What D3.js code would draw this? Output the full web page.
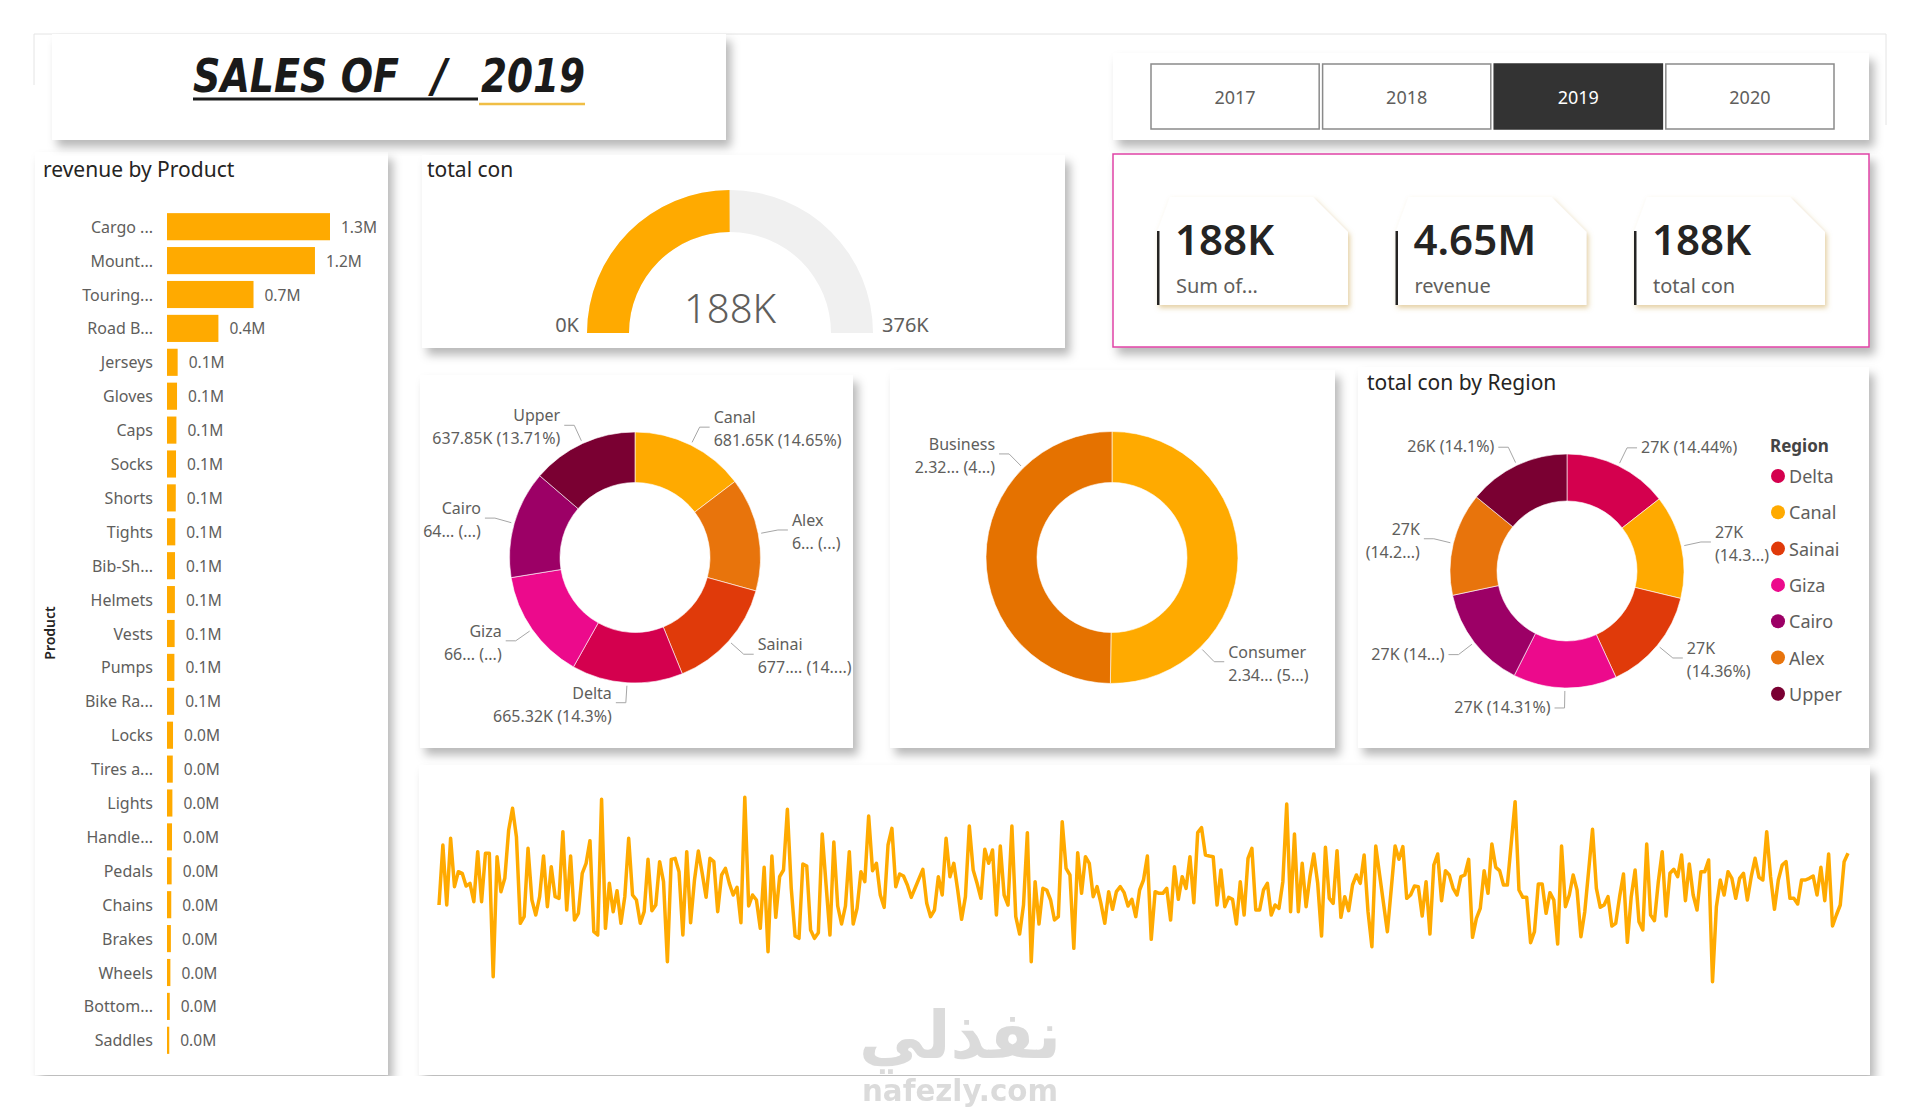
<!DOCTYPE html>
<html>
<head>
<meta charset="utf-8">
<script src="https://cdn.jsdelivr.net/npm/d3@7"></script>
<style>
  body { margin: 0; background: #fff; }
  svg { display: block; font-family: "Noto Sans", "Open Sans", sans-serif; }
</style>
</head>
<body>
<svg id="dash" width="1920" height="1110"></svg>
<script>
// ---- data ----
const years = [2017, 2018, 2019, 2020];
const selectedYear = 2019;

const products = ["Cargo ...", "Mount...", "Touring...", "Road B...", "Jerseys", "Gloves", "Caps", "Socks",
  "Shorts", "Tights", "Bib-Sh...", "Helmets", "Vests", "Pumps", "Bike Ra...", "Locks", "Tires a...",
  "Lights", "Handle...", "Pedals", "Chains", "Brakes", "Wheels", "Bottom...", "Saddles"];
const productRevenue = [1.30, 1.18, 0.69, 0.41, 0.085, 0.08, 0.075, 0.072, 0.07, 0.066, 0.064, 0.063,
  0.061, 0.059, 0.057, 0.048, 0.046, 0.043, 0.04, 0.037, 0.034, 0.031, 0.027, 0.022, 0.018]; // M

// revenue by region (K), pie order
const revRegions = ["Canal", "Alex", "Sainai", "Delta", "Giza", "Cairo", "Upper"];
const revByRegion = [681.65, 681.2, 677.31, 665.32, 664.5, 644.4, 637.85];
const revLabels = [["Canal", "681.65K (14.65%)"], ["Alex", "6... (...)"], ["Sainai", "677.... (14....)"],
  ["Delta", "665.32K (14.3%)"], ["Giza", "66... (...)"], ["Cairo", "64... (...)"], ["Upper", "637.85K (13.71%)"]];

// revenue by segment (M)
const segments = ["Consumer", "Business"];
const segRevenue = [2.336, 2.317];
const segLabels = [["Consumer", "2.34... (5...)"], ["Business", "2.32... (4...)"]];

// total con by region (K)
const conRegions = ["Delta", "Canal", "Sainai", "Giza", "Cairo", "Alex", "Upper"];
const conByRegion = [27.09, 26.88, 26.94, 26.85, 26.68, 26.71, 26.45];
const conLabels = [["27K (14.44%)"], ["27K", "(14.3...)"], ["27K", "(14.36%)"], ["27K (14.31%)"],
  ["27K (14...)"], ["27K", "(14.2...)"], ["26K (14.1%)"]];

const gaugeMax = 376; // K
const kpiLabels = ["Sum of...", "revenue", "total con"];

// daily con over the year
const dailyCon = [
  455,635,455,655,510,555,550,512,520,465, 615,465,610,610,240,600,495,535,680,745,
  660,400,420,625,470,425,480,602,450,570, 480,475,675,440,602,410,430,550,580,648,
  375,365,772,385,520,435,498,400,480,655, 485,470,400,435,592,438,455,585,525,285,
  592,595,555,365,615,402,530,617,550,478, 595,585,435,545,565,520,485,508,402,778,
  452,485,470,385,568,315,602,418,540,560, 742,505,362,355,578,572,380,355,372,668,
  515,365,644,452,398,452,615,398,445,555, 525,722,558,580,485,448,635,685,510,548,
  542,515,478,506,534,562,
  460,420,440,540,485,655,540,580,500,412, 480,692,560,520,475,622,580,620,425,632,
  485,455,692,420,368,455,672,285,525,398, 505,500,470,410,420,705,565,545,325,612,
  490,600,580,480,510,460,400,495,442,495, 510,492,452,472,420,500,530,602,352,495,
  490,490,505,410,570,472,540,505,600,462, 672,687,605,602,600,455,560,450,478,472,
  398,525,425,595,625,440,440,500,520,425, 455,445,525,758,435,668,435,580,450,540,
  608,520,362,628,475,460,618,418,480,438, 515,545,520,605,435,330,632,546,460,375,
  503,632,592,630,475,485,512,510,422,525, 368,575,608,468,558,545,505,485,540,545,
  592,358,415,445,558,490,638,568,558,515, 515,640,765,500,478,478,342,375,518,518,
  430,492,470,338,632,450,485,545,500,360, 435,558,682,505,448,455,480,392,400,480,
  548,343,480,560,405,380,638,425,408,525, 615,422,550,562,540,605,468,578,485,440,
  555,555,590,225,450,530,485,555,535,475, 535,550,470,540,595,538,530,675,540,442,
  530,575,585,475,475,458,530,530,535,542, 485,568,468,608,392,425,455,585,610
];

const regionColor = {
  Canal: "#FFAA00", Alex: "#E8740C", Sainai: "#E03A0A", Delta: "#D4004E",
  Giza: "#EC0A8C", Cairo: "#9C0066", Upper: "#7A0032"
};
const segColor = { Consumer: "#FFAA00", Business: "#E57200" };

const textDark = "#252423", textGrey = "#605E5C";
const yellow = "#FFAA00";

const svg = d3.select("#dash");
const defs = svg.append("defs");
defs.append("filter").attr("id", "shadow").attr("x", "-5%").attr("y", "-5%").attr("width", "115%").attr("height", "120%")
  .append("feDropShadow").attr("dx", 5).attr("dy", 7).attr("stdDeviation", 5)
  .attr("flood-color", "#000").attr("flood-opacity", 0.28);
defs.append("filter").attr("id", "glow").attr("x", "-10%").attr("y", "-10%").attr("width", "125%").attr("height", "130%")
  .append("feDropShadow").attr("dx", 2).attr("dy", 3).attr("stdDeviation", 2.5)
  .attr("flood-color", "#c9a24a").attr("flood-opacity", 0.5);

// page frame
svg.append("path").attr("d", "M34,85 V34 H1886 V125").attr("fill", "none").attr("stroke", "#e4e4e4");

// panels
function panel(x, y, w, h) {
  return svg.append("rect").attr("x", x).attr("y", y).attr("width", w).attr("height", h)
    .attr("fill", "#fff").attr("filter", "url(#shadow)");
}
panel(35, 152, 353, 923);
panel(52, 34, 674, 106);
panel(422, 155, 643, 193);
panel(1113, 53, 756, 87);
panel(1113, 154, 756, 193).attr("stroke", "#E043A6").attr("stroke-width", 1.5);
panel(420, 375, 433, 373);
panel(890, 370, 445, 378);
panel(1358, 367, 511, 381);
panel(419, 765, 1451, 310);
svg.append("rect").attr("x", 0).attr("y", 1076).attr("width", 1920).attr("height", 40).attr("fill", "#fff");

// ---- title ----
const titleFont = '"Liberation Sans Narrow", "DejaVu Sans Condensed", sans-serif';
const tg = svg.append("g").attr("font-family", titleFont).attr("font-weight", "bold")
  .attr("font-style", "italic").attr("font-size", 46).attr("fill", "#1a1a1a");
tg.append("text").attr("x", 193).attr("y", 92).attr("textLength", 206).attr("lengthAdjust", "spacingAndGlyphs").text("SALES OF");
tg.append("text").attr("x", 432).attr("y", 92).text("/");
tg.append("text").attr("x", 481).attr("y", 92).attr("textLength", 104).attr("lengthAdjust", "spacingAndGlyphs").text(String(selectedYear));
svg.append("line").attr("x1", 193).attr("x2", 478).attr("y1", 99).attr("y2", 99).attr("stroke", "#1a1a1a").attr("stroke-width", 3);
svg.append("line").attr("x1", 479).attr("x2", 585).attr("y1", 104).attr("y2", 104).attr("stroke", "#F0BE45").attr("stroke-width", 2.5);

// ---- year slicer ----
const xYear = d3.scaleBand().domain(years).range([1151, 1834]).paddingInner(0.02);
const yb = svg.append("g");
yb.selectAll("rect").data(years).join("rect")
  .attr("x", d => xYear(d)).attr("y", 64).attr("width", xYear.bandwidth()).attr("height", 65)
  .attr("fill", d => d === selectedYear ? "#333333" : "#fff")
  .attr("stroke", d => d === selectedYear ? "#333333" : "#8a8a8a").attr("stroke-width", 1.5);
yb.selectAll("text").data(years).join("text")
  .attr("x", d => xYear(d) + xYear.bandwidth() / 2).attr("y", 104).attr("text-anchor", "middle")
  .attr("font-size", 18).attr("fill", d => d === selectedYear ? "#fff" : textGrey).text(d => d);

// ---- KPI cards ----
const totalCon = d3.sum(conByRegion);
const totalRev = d3.sum(revByRegion) / 1000;
const kpiValues = [d3.format(".0f")(totalCon) + "K", d3.format(".2f")(totalRev) + "M", d3.format(".0f")(totalCon) + "K"];
kpiValues.forEach((v, i) => {
  const x0 = 1157 + i * 238.5, y0 = 197, w = 191, h = 108;
  const g = svg.append("g");
  g.append("path").attr("d", `M${x0},${y0 + 35} L${x0 + 13},${y0} L${x0 + w - 35},${y0} L${x0 + w},${y0 + 35} L${x0 + w},${y0 + h} L${x0},${y0 + h} Z`)
    .attr("fill", "#fff").attr("filter", "url(#glow)");
  g.append("rect").attr("x", x0).attr("y", y0 + 34).attr("width", 2.5).attr("height", h - 34).attr("fill", textDark);
  g.append("text").attr("x", x0 + 18).attr("y", y0 + 58).attr("font-size", 42).attr("font-weight", 600)
    .attr("fill", textDark).text(v);
  g.append("text").attr("x", x0 + 19).attr("y", y0 + 96).attr("font-size", 20).attr("fill", textGrey).text(kpiLabels[i]);
});

// ---- bar chart ----
svg.append("text").attr("x", 43).attr("y", 177).attr("font-size", 21).attr("fill", textDark).text("revenue by Product");
svg.append("text").attr("transform", "translate(55,633) rotate(-90)").attr("text-anchor", "middle")
  .attr("font-size", 14).attr("font-weight", 600).attr("fill", textDark).text("Product");
const yBar = d3.scaleBand().domain(products).range([209.75, 209.75 + 25 * 33.9]).paddingInner(0.2).paddingOuter(0.1);
const xBar = d3.scaleLinear().domain([0, 1.3]).range([167, 330]);
const bars = svg.append("g");
bars.selectAll("rect").data(productRevenue).join("rect")
  .attr("x", xBar(0)).attr("y", (d, i) => yBar(products[i]))
  .attr("width", d => xBar(d) - xBar(0)).attr("height", yBar.bandwidth()).attr("fill", yellow);
bars.selectAll("text.cat").data(products).join("text").attr("class", "cat")
  .attr("x", 153).attr("y", d => yBar(d) + yBar.bandwidth() / 2 + 6).attr("text-anchor", "end")
  .attr("font-size", 16).attr("fill", textGrey).text(d => d);
bars.selectAll("text.val").data(productRevenue).join("text").attr("class", "val")
  .attr("x", d => xBar(d) + 11).attr("y", (d, i) => yBar(products[i]) + yBar.bandwidth() / 2 + 6)
  .attr("font-size", 15.5).attr("fill", textGrey).text(d => d3.format(".1f")(d) + "M");

// ---- gauge ----
svg.append("text").attr("x", 427).attr("y", 177).attr("font-size", 21).attr("fill", textDark).text("total con");
const gcx = 730, gcy = 333;
const gArc = d3.arc().innerRadius(101).outerRadius(143);
const gScale = d3.scaleLinear().domain([0, gaugeMax]).range([-Math.PI / 2, Math.PI / 2]);
const gg = svg.append("g").attr("transform", `translate(${gcx},${gcy})`);
gg.append("path").attr("d", gArc({ startAngle: gScale(0), endAngle: gScale(gaugeMax) })).attr("fill", "#F0F0F0");
gg.append("path").attr("d", gArc({ startAngle: gScale(0), endAngle: gScale(totalCon) })).attr("fill", yellow);
gg.append("text").attr("y", -10).attr("text-anchor", "middle").attr("font-size", 40).attr("font-weight", 300)
  .attr("fill", textGrey).text(d3.format(".0f")(totalCon) + "K");
gg.append("text").attr("x", -151).attr("y", -1).attr("text-anchor", "end").attr("font-size", 20).attr("fill", textGrey).text("0K");
gg.append("text").attr("x", 152).attr("y", -1).attr("font-size", 20).attr("fill", textGrey).text(gaugeMax + "K");

// ---- donuts ----
function donut(cx, cy, rIn, rOut, names, values, colorOf, labels, frac) {
  const g = svg.append("g");
  const arcs = d3.pie().sort(null).value(d => d)(values);
  const arc = d3.arc().innerRadius(rIn).outerRadius(rOut);
  g.selectAll("path").data(arcs).join("path")
    .attr("transform", `translate(${cx},${cy})`).attr("d", arc)
    .attr("fill", (d, i) => colorOf[names[i]]).attr("stroke", "#fff").attr("stroke-width", 0.6);
  arcs.forEach((d, i) => {
    const a = d.startAngle + frac * (d.endAngle - d.startAngle);
    const sx = Math.sin(a), sy = -Math.cos(a);
    const side = sx >= 0 ? 1 : -1;
    const p0 = [cx + (rOut + 3) * sx, cy + (rOut + 3) * sy];
    const p1 = [cx + (rOut + 20) * sx, cy + (rOut + 20) * sy];
    const p2 = [p1[0] + side * 10, p1[1]];
    g.append("polyline").attr("points", [p0, p1, p2].map(p => p.join(",")).join(" "))
      .attr("fill", "none").attr("stroke", "#a6a6a6").attr("stroke-width", 1);
    const lines = labels[i];
    const t = g.append("text").attr("text-anchor", side > 0 ? "start" : "end")
      .attr("font-size", 16).attr("fill", textGrey);
    lines.forEach((s, k) => {
      const base = lines.length === 1 ? p2[1] + 5 : p2[1] - 4 + k * 23;
      t.append("tspan").attr("x", p2[0] + side * 4).attr("y", base).text(s);
    });
  });
}
donut(635, 557.5, 75, 125.5, revRegions, revByRegion, regionColor, revLabels, 0.5);
donut(1112, 557.5, 75, 126, segments, segRevenue, segColor, segLabels, 0.75);

svg.append("text").attr("x", 1367).attr("y", 390).attr("font-size", 21).attr("fill", textDark).text("total con by Region");
donut(1567, 571, 70, 117, conRegions, conByRegion, regionColor, conLabels, 0.5);

// legend
const lg = svg.append("g");
lg.append("text").attr("x", 1770).attr("y", 452).attr("font-size", 17).attr("font-weight", "bold").attr("fill", "#444").text("Region");
lg.selectAll("circle").data(conRegions).join("circle")
  .attr("cx", 1778).attr("cy", (d, i) => 476 + i * 36.3).attr("r", 7).attr("fill", d => regionColor[d]);
lg.selectAll("text.item").data(conRegions).join("text").attr("class", "item")
  .attr("x", 1789).attr("y", (d, i) => 483 + i * 36.3).attr("font-size", 18).attr("fill", textGrey).text(d => d);

// ---- daily line ----
const xDay = d3.scaleLinear().domain([0, dailyCon.length - 1]).range([439, 1848]);
const yDay = d3.scaleLinear().domain([200, 800]).range([990, 790]);
svg.append("path").datum(dailyCon)
  .attr("d", d3.line().x((d, i) => xDay(i)).y(d => yDay(d)))
  .attr("fill", "none").attr("stroke", yellow).attr("stroke-width", 3.5).attr("stroke-linejoin", "round");

// ---- watermark ----
const wm = svg.append("g").attr("fill", "#cfcfcf").attr("opacity", 0.75).attr("font-family", '"DejaVu Sans", sans-serif')
  .attr("font-weight", "bold").attr("text-anchor", "middle");
wm.append("text").attr("x", 960).attr("y", 1058).attr("font-size", 66).text("نفذلي");
wm.append("text").attr("x", 960).attr("y", 1101).attr("font-size", 30).attr("textLength", 196).attr("lengthAdjust", "spacingAndGlyphs").text("nafezly.com");
</script>
</body>
</html>
